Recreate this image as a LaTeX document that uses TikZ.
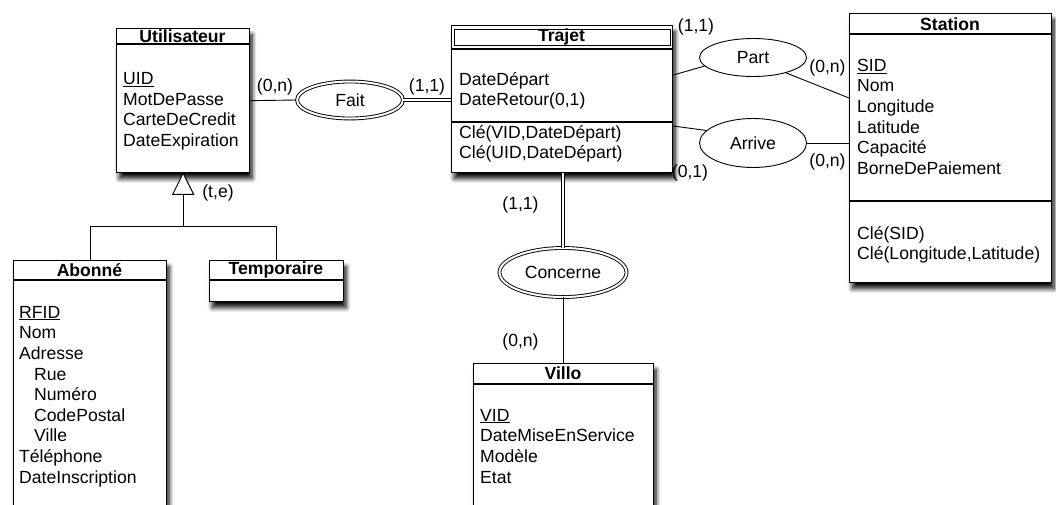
\documentclass[tikz,border=0pt]{standalone}
\usepackage{fontspec}
\setmainfont{Liberation Sans}
\usetikzlibrary{shapes.geometric,shadows.blur,calc}
\begin{document}
\begin{tikzpicture}[x=1pt,y=-1pt,
  every node/.style={font=\fontsize{17.6}{20.6}\selectfont},
  entity/.style={draw, line width=1.3pt, fill=white, rectangle, anchor=north west, inner sep=0pt,
    blur shadow={shadow xshift=2.5pt, shadow yshift=-6pt, shadow blur radius=4.5pt, shadow blur steps=8, shadow opacity=95}},
  sepline/.style={line width=1.3pt},
  title/.style={font=\fontsize{17.6}{20.6}\selectfont\bfseries, inner sep=0pt},
  attrs/.style={align=left, anchor=north west, inner sep=0pt},
  rel/.style={ellipse, draw, line width=0.9pt, fill=white, inner sep=0pt},
  weakrel/.style={rel, double, double distance=2pt},
  link/.style={line width=0.9pt},
  dlink/.style={line width=0.9pt, double, double distance=2.2pt},
  card/.style={inner sep=0pt},
]
\useasboundingbox (0,0) rectangle (1056,504);
\clip (0,0) rectangle (1056,504);

% Utilisateur
\node[entity, minimum width=133, minimum height=144] (U) at (116,28) {};
\draw[sepline] ([yshift=-16pt]U.north west) -- ([yshift=-16pt]U.north east);
\node[title] (Ut) at (182.5,36) {Utilisateur};
\node[attrs] (Ua) at (123,70) {\strut\underline{UID}\\MotDePasse\\CarteDeCredit\\DateExpiration};

% Trajet
\node[entity, minimum width=221, minimum height=147] (T) at (451,25) {};
\draw[line width=1pt] ([xshift=3pt,yshift=-4pt]T.north west) rectangle ([xshift=-3pt,yshift=-20pt]T.north east);
\draw[sepline] ([yshift=-24pt]T.north west) -- ([yshift=-24pt]T.north east);
\draw[sepline] ([yshift=-97pt]T.north west) -- ([yshift=-97pt]T.north east);
\node[title] (Tt) at (561.5,37) {Trajet};
\node[attrs] (Ta) at (459,70.6) {\strut DateDépart\\DateRetour(0,1)};
\node[attrs] (Tk) at (459,123.6) {\strut Clé(VID,DateDépart)\\Clé(UID,DateDépart)};

% Station
\node[entity, minimum width=202, minimum height=269] (S) at (849,13) {};
\draw[sepline] ([yshift=-21pt]S.north west) -- ([yshift=-21pt]S.north east);
\draw[sepline] ([yshift=-188pt]S.north west) -- ([yshift=-188pt]S.north east);
\node[title] (St) at (950,24) {Station};
\node[attrs] (Sa) at (857,56.6) {\strut\underline{SID}\\Nom\\Longitude\\Latitude\\Capacité\\BorneDePaiement};
\node[attrs] (Sk) at (857,224.6) {\strut Clé(SID)\\Clé(Longitude,Latitude)};

% Abonne
\node[entity, minimum width=153, minimum height=260] (A) at (13,260) {};
\draw[sepline] ([yshift=-20pt]A.north west) -- ([yshift=-20pt]A.north east);
\node[title] (At) at (89.5,270) {Abonné};
\node[attrs] (Aa) at (19,303.6) {\strut\underline{RFID}\\Nom\\Adresse\\\hspace*{15pt}Rue\\\hspace*{15pt}Numéro\\\hspace*{15pt}CodePostal\\\hspace*{15pt}Ville\\Téléphone\\DateInscription};

% Temporaire
\node[entity, minimum width=134, minimum height=41] (Tp) at (209,260) {};
\draw[sepline] ([yshift=-20pt]Tp.north west) -- ([yshift=-20pt]Tp.north east);
\node[title] (Tpt) at (276,270) {Temporaire};

% Villo
\node[entity, minimum width=180, minimum height=160] (V) at (473,363) {};
\draw[sepline] ([yshift=-21pt]V.north west) -- ([yshift=-21pt]V.north east);
\node[title] (Vt) at (563,373.5) {Villo};
\node[attrs] (Va) at (480,406.6) {\strut\underline{VID}\\DateMiseEnService\\Modèle\\Etat};

% Relations
\node[weakrel, minimum width=106, minimum height=37] (Fait) at (350,100) {Fait};
\node[rel, minimum width=107, minimum height=38] (Part) at (753,57.5) {Part};
\node[rel, minimum width=107, minimum height=49] (Arrive) at (753,143) {Arrive};
\node[weakrel, minimum width=127, minimum height=49] (Conc) at (563,272.5) {Concerne};

% Connectors
\draw[link] (U.east) -- (Fait.west);
\draw[dlink] (Fait.east) -- (Fait.east -| T.west);
\draw[link] ([yshift=-50pt]T.north east) -- (Part.190);
\draw[link] (Part.335) -- ([yshift=-85pt]S.north west);
\draw[link] ([yshift=-101pt]T.north east) -- (Arrive.165);
\draw[link] (Arrive.east) -- (Arrive.east -| S.west);
\draw[dlink] (Conc.north) -- (Conc.north |- T.south);
\draw[link] (Conc.south) -- (Conc.south |- V.north);

% Inheritance
\draw[link, fill=white] (U.south) -- ++(-10.5,21) -- ++(21,0) -- cycle;
\coordinate (isa) at ([yshift=-21pt]U.south);
\coordinate (junc) at ([yshift=-53pt]U.south);
\draw[link] (isa) -- (junc);
\draw[link] (A.north) |- (junc) -| (Tp.north);

% Cardinalities
\node[card] (c1) at (275,87) {(0,n)};
\node[card] (c2) at (427,87) {(1,1)};
\node[card] (c3) at (696,27) {(1,1)};
\node[card] (c4) at (827.5,68) {(0,n)};
\node[card] (c5) at (690,173) {(0,1)};
\node[card] (c6) at (827.5,162) {(0,n)};
\node[card] (c7) at (520.5,205) {(1,1)};
\node[card] (c8) at (520.5,342) {(0,n)};
\node[card] (te) at (218,193) {(t,e)};
\end{tikzpicture}
\end{document}
